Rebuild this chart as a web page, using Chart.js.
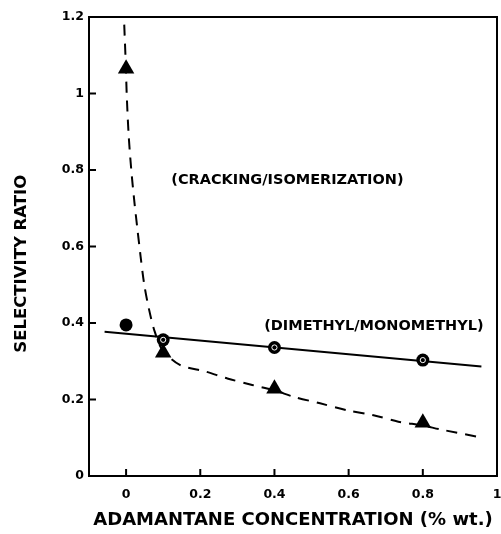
<!DOCTYPE html>
<html><head><meta charset="utf-8">
<script src="https://cdn.jsdelivr.net/npm/chart.js@4/dist/chart.umd.min.js"></script>
<style>html,body{margin:0;padding:0;background:#fff}#wrap{width:501px;height:534px}</style>
</head><body><div id="wrap"><canvas id="c" width="501" height="534"></canvas></div>
<script>
// ---- data ----
const concentration = [0, 0.1, 0.4, 0.8];
const dimethylRatio = [0.395, 0.356, 0.336, 0.303];
const crackingRatio = [1.065, 0.322, 0.228, 0.139];
const dimethylFitX = [-0.058, 0.958];
const dimethylFitY = [0.377, 0.286];
const crackingCurveX = [-0.005, -0.001, 0.002, 0.007, 0.014, 0.022, 0.030, 0.039, 0.049, 0.062, 0.077, 0.098, 0.146, 0.215, 0.273, 0.340, 0.400, 0.452, 0.523, 0.595, 0.667, 0.734, 0.800, 0.846, 0.962];
const crackingCurveY = [1.180, 1.080, 0.990, 0.890, 0.800, 0.720, 0.650, 0.575, 0.500, 0.435, 0.378, 0.330, 0.290, 0.273, 0.255, 0.238, 0.224, 0.207, 0.190, 0.172, 0.159, 0.142, 0.132, 0.122, 0.100];
const xTickValues = [0, 0.2, 0.4, 0.6, 0.8, 1];
const yTickValues = [0, 0.2, 0.4, 0.6, 0.8, 1, 1.2];
const xTitle = 'ADAMANTANE CONCENTRATION (% wt.)';
const yTitle = 'SELECTIVITY RATIO';
const labelCracking = '(CRACKING/ISOMERIZATION)';
const labelDimethyl = '(DIMETHYL/MONOMETHYL)';

const FONT = "'DejaVu Sans', 'Liberation Sans', sans-serif";
Chart.defaults.font.family = FONT;
Chart.defaults.color = '#000';

const pts = (xs, ys) => xs.map((x, i) => ({x: x, y: ys[i]}));
const fmt = v => String(Math.round(v * 10) / 10);

const framePlugin = {
  id: 'frame',
  afterDatasetsDraw(chart) {
    const {ctx, chartArea: a, scales: {x, y}} = chart;
    ctx.save();
    ctx.strokeStyle = '#000';
    ctx.lineWidth = 2;
    ctx.strokeRect(a.left, a.top, a.right - a.left, a.bottom - a.top);
    ctx.beginPath();
    xTickValues.forEach(v => { const px = x.getPixelForValue(v); ctx.moveTo(px, a.bottom); ctx.lineTo(px, a.bottom - 7); });
    yTickValues.forEach(v => { const py = y.getPixelForValue(v); ctx.moveTo(a.left, py); ctx.lineTo(a.left + 7, py); });
    ctx.stroke();
    // annotations
    ctx.fillStyle = '#000';
    ctx.textAlign = 'center';
    ctx.textBaseline = 'middle';
    ctx.font = 'bold 14.5px ' + FONT;
    ctx.fillText(labelCracking, x.getPixelForValue(0.435), y.getPixelForValue(0.774));
    ctx.fillText(labelDimethyl, x.getPixelForValue(0.668), y.getPixelForValue(0.392));
    ctx.restore();
  }
};

new Chart(document.getElementById('c'), {
  type: 'scatter',
  data: {
    datasets: [
      { label: 'ring', data: pts(concentration.slice(1), dimethylRatio.slice(1)), pointStyle: 'circle', pointRadius: 2.6, pointBackgroundColor: 'rgba(0,0,0,0)', pointBorderColor: '#fff', pointBorderWidth: 1, showLine: false },
      { label: 'Dimethyl/Monomethyl', data: pts(concentration, dimethylRatio), pointStyle: 'circle', pointRadius: 6.5, pointBackgroundColor: '#000', pointBorderColor: '#000', pointBorderWidth: 0, showLine: false },
      { label: 'Cracking/Isomerization', data: pts(concentration, crackingRatio), pointStyle: 'triangle', pointRadius: 9.5, pointBackgroundColor: '#000', pointBorderColor: '#000', pointBorderWidth: 0, showLine: false },
      { label: 'fit', data: pts(dimethylFitX, dimethylFitY), showLine: true, pointRadius: 0, borderColor: '#000', borderWidth: 2 },
      { label: 'curve', data: pts(crackingCurveX, crackingCurveY), showLine: true, pointRadius: 0, borderColor: '#000', borderWidth: 2, borderDash: [11, 8], tension: 0.3 }
    ]
  },
  options: {
    responsive: false,
    animation: false,
    devicePixelRatio: 1,
    layout: { autoPadding: false, padding: { top: 17, right: 4, left: 0, bottom: 0 } },
    plugins: { legend: { display: false }, tooltip: { enabled: false } },
    scales: {
      x: {
        type: 'linear', min: -0.1, max: 1.0,
        afterBuildTicks: s => { s.ticks = xTickValues.map(v => ({value: v})); },
        afterFit: s => { s.height = 58; s.paddingLeft = 0; s.paddingRight = 0; },
        grid: { drawOnChartArea: false, drawTicks: false },
        border: { display: true, color: '#000', width: 2 },
        ticks: { callback: fmt, font: { size: 12.5, weight: 'bold' }, color: '#000', padding: 11, maxRotation: 0 },
        title: { display: true, text: xTitle, font: { size: 18, weight: 'bold' }, color: '#000', padding: { top: 0, bottom: 3 } }
      },
      y: {
        type: 'linear', min: 0, max: 1.2,
        afterBuildTicks: s => { s.ticks = yTickValues.map(v => ({value: v})); },
        afterFit: s => { s.width = 89; s.paddingTop = 0; s.paddingBottom = 0; },
        grid: { drawOnChartArea: false, drawTicks: false },
        border: { display: true, color: '#000', width: 2 },
        ticks: { callback: fmt, font: { size: 12.5, weight: 'bold' }, color: '#000', padding: 5 },
        title: { display: true, text: yTitle + '      ', font: { size: 16.5, weight: 'bold' }, color: '#000', padding: { top: 12, bottom: 0 } }
      }
    }
  },
  plugins: [framePlugin]
});
</script>
</body></html>
